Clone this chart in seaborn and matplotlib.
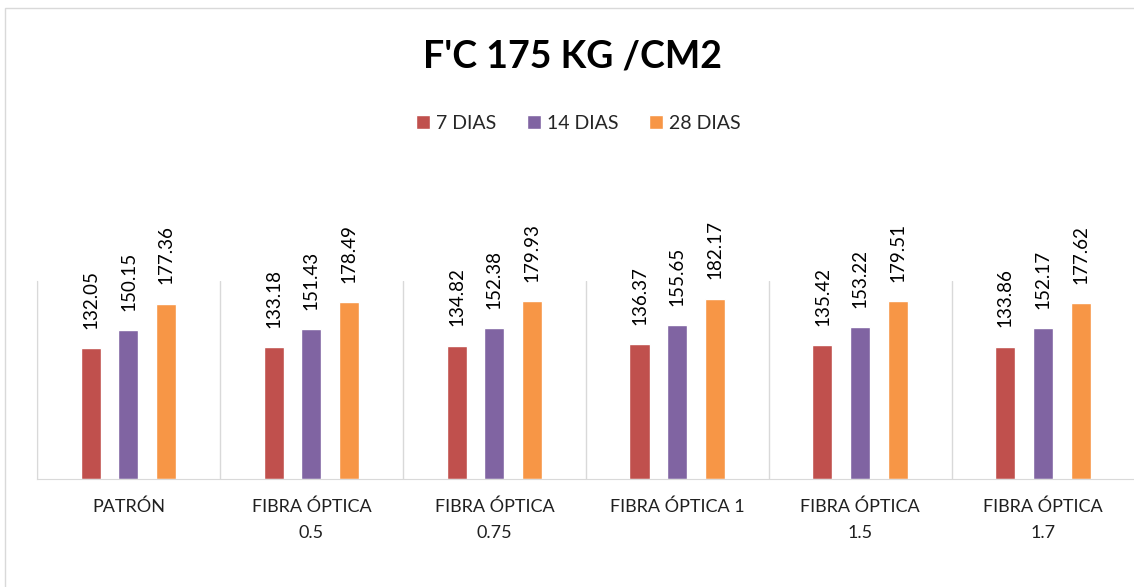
import pandas as pd
import numpy as np
import seaborn as sns
import matplotlib.pyplot as plt

# datos
categorias = ["PATRÓN", "FIBRA ÓPTICA 0.5", "FIBRA ÓPTICA 0.75",
              "FIBRA ÓPTICA 1", "FIBRA ÓPTICA 1.5", "FIBRA ÓPTICA 1.7"]
etiquetas = ["PATRÓN", "FIBRA ÓPTICA\n0.5", "FIBRA ÓPTICA\n0.75",
             "FIBRA ÓPTICA 1", "FIBRA ÓPTICA\n1.5", "FIBRA ÓPTICA\n1.7"]
series = ["7 DIAS", "14 DIAS", "28 DIAS"]
dias_7 = [132.05, 133.18, 134.82, 136.37, 135.42, 133.86]
dias_14 = [150.15, 151.43, 152.38, 155.65, 153.22, 152.17]
dias_28 = [177.36, 178.49, 179.93, 182.17, 179.51, 177.62]
colores = ["#C0504D", "#8064A2", "#F79646"]

df = pd.DataFrame({"cat": categorias * 3,
                   "serie": np.repeat(series, len(categorias)),
                   "valor": dias_7 + dias_14 + dias_28})

sns.set_style("white")
plt.rcParams["font.family"] = ["Lato", "DejaVu Sans"]

fig = plt.figure(figsize=(11.34, 5.87), dpi=100)
ax = fig.add_axes([0.0326, 0.184, 0.968, 0.337])

sns.barplot(data=df, x="cat", y="valor", hue="serie", order=categorias,
            hue_order=series, palette=colores, width=0.62, gap=0.47,
            errorbar=None, ax=ax, saturation=1)

for c in ax.containers:
    ax.bar_label(c, fmt="%.2f", rotation=90, padding=14, fontsize=13.5,
                 color="#000000", clip_on=False)

ax.set_ylim(0, 200)
ax.set_xlim(-0.5, 5.5)
ax.set_yticks([])
ax.set_xlabel("")
ax.set_ylabel("")
ax.set_xticks(range(len(categorias)))
ax.set_xticklabels(etiquetas, fontsize=13, color="#202020", linespacing=1.8)
ax.set_xticks(np.arange(-0.5, 6, 1), minor=True)
ax.tick_params(axis="x", which="both", length=0, pad=14)
ax.grid(axis="x", which="minor", color="#D9D9D9", linewidth=1)
ax.grid(axis="x", which="major", visible=False)
for s in ["top", "right"]:
    ax.spines[s].set_visible(False)
ax.spines["left"].set_color("#D9D9D9")
ax.spines["bottom"].set_color("#D9D9D9")

leg = ax.legend(loc="center", bbox_to_anchor=(0.51, 0.79),
                bbox_transform=fig.transFigure, ncol=3, frameon=False,
                fontsize=14, handlelength=0.7, handleheight=0.7,
                handletextpad=0.3, columnspacing=1.6)

fig.text(0.505, 0.903, "F'C 175 KG /CM2", ha="center", va="center",
         fontsize=27, fontweight="bold", color="#000000")

fig.patches.append(plt.Rectangle((0.004, -0.01), 1.1, 0.996, transform=fig.transFigure,
                                 fill=False, edgecolor="#D9D9D9", linewidth=1))

fig.savefig("out.png", dpi=100)
